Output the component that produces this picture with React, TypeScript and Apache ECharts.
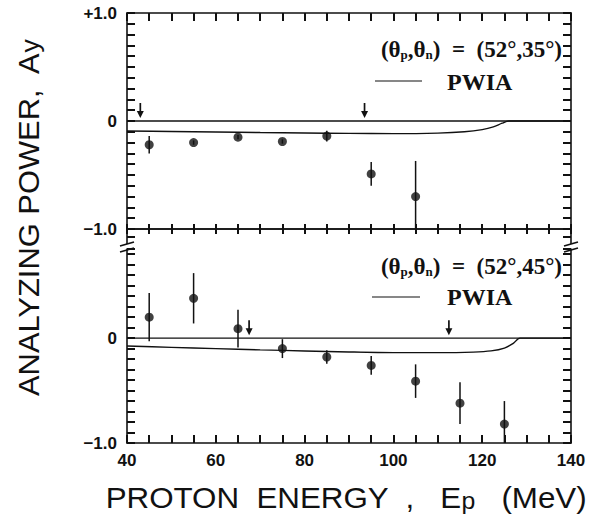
import React, { useEffect, useRef } from "react";
import * as echarts from "echarts";

// ---- data ----
const xLabelValues = [40, 60, 80, 100, 120, 140];

const energyTop = [45, 55, 65, 75, 85, 95, 105];
const ayTop = [-0.22, -0.2, -0.15, -0.19, -0.14, -0.49, -0.7];
const errTop = [0.08, 0.02, 0.02, 0.02, 0.05, 0.11, 0.33];

const energyBot = [45, 55, 65, 75, 85, 95, 105, 115, 125];
const ayBot = [0.2, 0.38, 0.09, -0.1, -0.18, -0.26, -0.41, -0.62, -0.82];
const errBot = [0.23, 0.24, 0.18, 0.09, 0.065, 0.09, 0.16, 0.2, 0.22];

const arrowsTop = [43, 93.5];
const arrowsBot = [67.5, 112.5];

const pwiaTopE = [40, 50, 60, 70, 80, 90, 100, 110, 116, 120, 122.5, 124.5, 126, 140];
const pwiaTopA = [-0.093, -0.097, -0.102, -0.107, -0.111, -0.115, -0.117, -0.112, -0.1, -0.08, -0.055, -0.02, 0, 0];

const pwiaBotE = [40, 50, 60, 70, 80, 90, 100, 110, 118, 122, 125, 127, 128.5, 140];
const pwiaBotA = [-0.075, -0.088, -0.1, -0.112, -0.122, -0.132, -0.138, -0.138, -0.133, -0.122, -0.095, -0.05, 0, 0];

const zeroLine = [
  [40, 0],
  [140, 0],
];

const legendTop = "(52°,35°)";
const legendBot = "(52°,45°)";

const X_MIN = 40;
const X_MAX = 140;
const X_STEP = 5;
const Y_STEP = 0.1;
const TOP_MAX = 1;
const BOT_MAX = 0.85;

const zip = (a: number[], b: number[]) => a.map((v, i) => [v, b[i]]);
const zip3 = (a: number[], b: number[], c: number[]) => a.map((v, i) => [v, b[i], c[i]]);

const BLACK = "#111";
const TICK_W = 2;
const tickFont = { fontFamily: "Liberation Sans", fontWeight: "bold" as const, fontSize: 17, color: BLACK };

const errorRender = (params: any, api: any) => {
  const x = api.value(0);
  const y = api.value(1);
  const e = api.value(2);
  const p1 = api.coord([x, y - e]);
  const p2 = api.coord([x, y + e]);
  return {
    type: "line",
    shape: { x1: p1[0], y1: p1[1], x2: p2[0], y2: p2[1] },
    style: { stroke: BLACK, lineWidth: 1.5 },
  };
};

const arrowRender = (params: any, api: any) => {
  const p = api.coord([api.value(0), 0]);
  const tip = p[1] - 3;
  return {
    type: "group",
    children: [
      {
        type: "line",
        shape: { x1: p[0], y1: tip - 15, x2: p[0], y2: tip - 5 },
        style: { stroke: BLACK, lineWidth: 1.7 },
      },
      {
        type: "polygon",
        shape: {
          points: [
            [p[0] - 3.5, tip - 7],
            [p[0] + 3.5, tip - 7],
            [p[0], tip],
          ],
        },
        style: { fill: BLACK },
      },
    ],
  };
};

function xAxisBase(gridIndex: number, position: string, inside: boolean, len: number, labels: boolean) {
  return {
    type: "value",
    gridIndex,
    position,
    min: X_MIN,
    max: X_MAX,
    interval: X_STEP,
    axisLine: { show: true, onZero: false, lineStyle: { color: BLACK, width: 1.6 } },
    axisTick: { show: true, inside, length: len, lineStyle: { color: BLACK, width: TICK_W } },
    axisLabel: labels
      ? {
          show: true,
          margin: 9,
          ...tickFont,
          formatter: (v: number) => (xLabelValues.some((t) => Math.abs(t - v) < 1e-6) ? String(Math.round(v)) : ""),
        }
      : { show: false },
    splitLine: { show: false },
  };
}

function yAxisBase(gridIndex: number, position: string, max: number, labels: boolean) {
  return {
    type: "value",
    gridIndex,
    position,
    min: -1,
    max,
    interval: Y_STEP,
    axisLine: { show: true, onZero: false, lineStyle: { color: BLACK, width: 1.6 } },
    axisTick: { show: true, inside: true, length: 8, lineStyle: { color: BLACK, width: TICK_W } },
    axisLabel: labels
      ? {
          show: true,
          margin: 10,
          ...tickFont,
          showMaxLabel: true,
          formatter: (v: number) => {
            if (Math.abs(v - 1) < 1e-6) return "+1.0";
            if (Math.abs(v) < 1e-6) return "0";
            if (Math.abs(v + 1) < 1e-6) return "\u22121.0";
            return "";
          },
        }
      : { show: false },
    splitLine: { show: false },
  };
}

const serif = "Liberation Serif";
const legendRich = {
  m: { fontFamily: serif, fontWeight: "bold", fontSize: 23, fill: BLACK, verticalAlign: "bottom", lineHeight: 26 },
  s: { fontFamily: serif, fontWeight: "bold", fontSize: 13, fill: BLACK, verticalAlign: "bottom", lineHeight: 19 },
};

export default function App() {
  const ref = useRef<HTMLDivElement>(null);
  useEffect(() => {
    if (!ref.current) return;
    const chart = echarts.init(ref.current, undefined, { renderer: "svg" });
    const line = (d: number[][], xi: number, yi: number) => ({
      type: "line",
      xAxisIndex: xi,
      yAxisIndex: yi,
      data: d,
      showSymbol: false,
      symbol: "none",
      smooth: 0.3,
      lineStyle: { color: BLACK, width: 1.4 },
      z: 3,
    });
    const gL = 127;
    const gR = 571;
    const breakMarks: any[] = [];
    [gL, gR].forEach((x) => {
      const dir = x === gL ? 1 : -1;
      breakMarks.push(
        { type: "line", shape: { x1: x, y1: 229, x2: x, y2: 244 }, style: { stroke: BLACK, lineWidth: 1.6 } },
        { type: "line", shape: { x1: x, y1: 237, x2: x + 8 * dir, y2: 237 }, style: { stroke: BLACK, lineWidth: TICK_W } },
        { type: "line", shape: { x1: x - 7, y1: 246, x2: x + 7, y2: 242 }, style: { stroke: BLACK, lineWidth: 1.7 } },
        { type: "line", shape: { x1: x - 7, y1: 252, x2: x + 7, y2: 248 }, style: { stroke: BLACK, lineWidth: 1.7 } }
      );
    });
    chart.setOption({
      animation: false,
      backgroundColor: "#fff",
      grid: [
        { left: gL, top: 13, width: gR - gL, height: 216 },
        { left: gL, top: 249, width: gR - gL, height: 194 },
      ],
      xAxis: [
        xAxisBase(0, "bottom", true, 5, false),
        xAxisBase(0, "bottom", false, 5, false),
        xAxisBase(0, "top", true, 8, false),
        xAxisBase(1, "bottom", true, 8, true),
      ],
      yAxis: [
        yAxisBase(0, "left", TOP_MAX, true),
        yAxisBase(0, "right", TOP_MAX, false),
        yAxisBase(1, "left", BOT_MAX, true),
        yAxisBase(1, "right", BOT_MAX, false),
      ],
      series: [
        line(zeroLine, 0, 0),
        line(zip(pwiaTopE, pwiaTopA), 0, 0),
        line(zeroLine, 3, 2),
        line(zip(pwiaBotE, pwiaBotA), 3, 2),
        {
          type: "custom",
          xAxisIndex: 0,
          yAxisIndex: 0,
          clip: true,
          renderItem: errorRender,
          data: zip3(energyTop, ayTop, errTop),
          encode: { x: 0, y: 1 },
          z: 4,
        },
        {
          type: "custom",
          xAxisIndex: 3,
          yAxisIndex: 2,
          clip: true,
          renderItem: errorRender,
          data: zip3(energyBot, ayBot, errBot),
          encode: { x: 0, y: 1 },
          z: 4,
        },
        {
          type: "scatter",
          xAxisIndex: 0,
          yAxisIndex: 0,
          symbolSize: 9,
          itemStyle: { color: BLACK },
          data: zip(energyTop, ayTop),
          z: 5,
        },
        {
          type: "scatter",
          xAxisIndex: 3,
          yAxisIndex: 2,
          symbolSize: 9,
          itemStyle: { color: BLACK },
          data: zip(energyBot, ayBot),
          z: 5,
        },
        {
          type: "custom",
          xAxisIndex: 0,
          yAxisIndex: 0,
          renderItem: arrowRender,
          data: arrowsTop.map((e) => [e, 0]),
          encode: { x: 0, y: 1 },
          z: 6,
        },
        {
          type: "custom",
          xAxisIndex: 3,
          yAxisIndex: 2,
          renderItem: arrowRender,
          data: arrowsBot.map((e) => [e, 0]),
          encode: { x: 0, y: 1 },
          z: 6,
        },
      ],
      graphic: [
        ...breakMarks,
        {
          type: "text",
          x: 26,
          y: 218,
          rotation: Math.PI / 2,
          scaleX: 1.03,
          style: {
            text: "{m|ANALYZING POWER,  A}{s|y}",
            align: "center",
            verticalAlign: "middle",
            rich: {
              m: { fontFamily: "Liberation Sans", fontSize: 30, fill: BLACK, verticalAlign: "bottom", lineHeight: 34 },
              s: { fontFamily: "Liberation Sans", fontSize: 26, fill: BLACK, verticalAlign: "bottom", lineHeight: 31 },
            },
          },
        },
        {
          type: "text",
          x: 346,
          y: 497,
          scaleX: 1.08,
          style: {
            text: "{m|PROTON  ENERGY  ,   E}{s|p}{m|   (MeV)}",
            align: "center",
            verticalAlign: "middle",
            rich: {
              m: { fontFamily: "Liberation Sans", fontSize: 29, fill: BLACK, verticalAlign: "bottom", lineHeight: 30 },
              s: { fontFamily: "Liberation Sans", fontSize: 23, fill: BLACK, verticalAlign: "bottom", lineHeight: 22 },
            },
          },
        },
        {
          type: "text",
          x: 562,
          y: 48,
          style: { text: "{m|(θ}{s|p}{m|,θ}{s|n}{m|)  =  " + legendTop + "}", align: "right", verticalAlign: "middle", rich: legendRich },
        },
        {
          type: "text",
          x: 562,
          y: 265,
          style: { text: "{m|(θ}{s|p}{m|,θ}{s|n}{m|)  =  " + legendBot + "}", align: "right", verticalAlign: "middle", rich: legendRich },
        },
        { type: "line", shape: { x1: 375, y1: 81, x2: 422, y2: 81 }, style: { stroke: BLACK, lineWidth: 1.2 } },
        { type: "line", shape: { x1: 372, y1: 297, x2: 420, y2: 297 }, style: { stroke: BLACK, lineWidth: 1.2 } },
        {
          type: "text",
          x: 447,
          y: 82,
          style: { text: "PWIA", fontFamily: serif, fontWeight: "bold", fontSize: 24, fill: BLACK, align: "left", verticalAlign: "middle" },
        },
        {
          type: "text",
          x: 447,
          y: 297,
          style: { text: "PWIA", fontFamily: serif, fontWeight: "bold", fontSize: 24, fill: BLACK, align: "left", verticalAlign: "middle" },
        },
      ],
    });
    return () => chart.dispose();
  }, []);
  return <div ref={ref} style={{ position: "absolute", left: 0, top: 0, width: 600, height: 520, background: "#fff" }} />;
}
